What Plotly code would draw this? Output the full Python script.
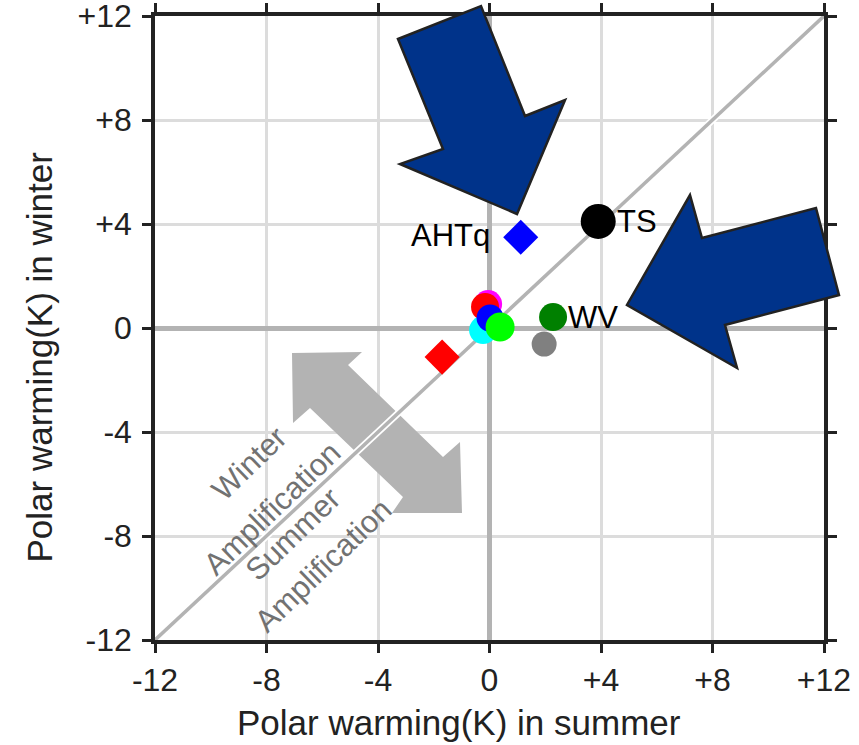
import plotly.graph_objects as go

# ---------------- data ----------------
summer_warming = [-0.05, -0.16, -0.23, 0.02, 0.38, 2.28, 1.96, -1.70, 1.12, 3.90]
winter_warming = [0.92, 0.81, -0.08, 0.38, 0.04, 0.42, -0.62, -1.12, 3.49, 4.10]
point_labels = ['', '', '', '', '', 'WV', '', '', 'AHTq', 'TS']
point_colors = ['#ff00ff', '#ff0000', '#00ffff', '#0000ff', '#00ff00',
                '#008000', '#808080', '#ff0000', '#0000ff', '#000000']
point_symbols = ['circle', 'circle', 'circle', 'circle', 'circle',
                 'circle', 'circle', 'diamond', 'diamond', 'circle']
label_sides = ['', '', '', '', '', 'right', '', '', 'left', 'right']

tick_values = [-12, -8, -4, 0, 4, 8, 12]
tick_labels = ['-12', '-8', '-4', '0', '+4', '+8', '+12']
axis_range = [-12, 12]

# ---------------- style ----------------
point_sizes = [28, 28, 28, 27, 29, 28, 25, 27, 27, 35]
FONT = 'Liberation Sans, Arial, sans-serif'
INK = '#222222'

# plot-area geometry (pixels) used for decorative arrows / texts
L, T, W, H = 155, 16, 669, 624
FIG_W, FIG_H = 859, 745
SPAN = axis_range[1] - axis_range[0]


def px_paper(px, py):
    return ((px - L) / W, (T + H - py) / H)


def px_data(px, py):
    return (axis_range[0] + (px - L) / W * SPAN, axis_range[1] - (py - T) / H * SPAN)


def make_path(pts):
    return 'M ' + ' L '.join(f'{x:.4f},{y:.4f}' for x, y in pts) + ' Z'


fig = go.Figure()

# 1:1 line (white halo + gray line)
fig.add_trace(go.Scatter(x=axis_range, y=axis_range, mode='lines',
                         line=dict(color='white', width=7), hoverinfo='skip'))
fig.add_trace(go.Scatter(x=axis_range, y=axis_range, mode='lines',
                         line=dict(color='#b3b3b3', width=3.5), hoverinfo='skip'))

# points
fig.add_trace(go.Scatter(
    x=summer_warming, y=winter_warming, mode='markers',
    marker=dict(color=point_colors, symbol=point_symbols, size=point_sizes,
                line=dict(width=0), opacity=1),
    hoverinfo='skip'))

annotations = []
# point labels
for i, lab in enumerate(point_labels):
    if not lab:
        continue
    half = point_sizes[i] * (0.65 if point_symbols[i] == 'diamond' else 0.5)
    if label_sides[i] == 'right':
        annotations.append(dict(x=summer_warming[i], y=winter_warming[i], text=lab,
                                showarrow=False, xanchor='left', yanchor='middle',
                                xshift=half - 1, font=dict(family=FONT, size=31, color='#000')))
    else:
        annotations.append(dict(x=summer_warming[i], y=winter_warming[i], text=lab,
                                showarrow=False, xanchor='right', yanchor='middle',
                                xshift=-(half + 11), yshift=2,
                                font=dict(family=FONT, size=31, color='#000')))

# rotated gray texts
for txt, (px, py) in [('Winter', (249, 463)), ('Amplification', (272, 508)),
                      ('Summer', (292.5, 534)), ('Amplification', (323, 565))]:
    xp, yp = px_paper(px, py)
    annotations.append(dict(x=xp, y=yp, xref='paper', yref='paper', text=txt,
                            showarrow=False, textangle=-44, xanchor='center', yanchor='middle',
                            font=dict(family=FONT, size=31, color='#727272')))

# axis titles
xp, yp = px_paper(459, 722)
annotations.append(dict(x=xp, y=yp, xref='paper', yref='paper',
                        text='Polar warming(K) in summer', showarrow=False,
                        xanchor='center', yanchor='middle',
                        font=dict(family=FONT, size=35, color=INK)))
xp, yp = px_paper(39, 357.5)
annotations.append(dict(x=xp, y=yp, xref='paper', yref='paper',
                        text='Polar warming(K) in winter', showarrow=False, textangle=-90,
                        xanchor='center', yanchor='middle',
                        font=dict(family=FONT, size=35, color=INK)))

shapes = []
# gray double arrow (between grid and data)
gray_px = [(292, 353), (362, 352), (348, 365), (443, 457), (460, 442),
           (462, 513), (392, 513), (403, 497), (310, 408), (293, 423)]
shapes.append(dict(type='path', xref='x', yref='y', layer='between',
                   path=make_path([px_data(*p) for p in gray_px]),
                   fillcolor='#b3b3b3', line=dict(width=0)))

# dark blue arrows
arrow1 = [(398, 39), (481, 6), (525, 116), (565, 100), (517, 214), (400, 164), (443, 149)]
arrow2 = [(690, 195), (702, 238), (816, 208), (839, 295), (725, 325), (737, 368), (627, 305)]
for arr in (arrow1, arrow2):
    shapes.append(dict(type='path', xref='paper', yref='paper', layer='above',
                       path=make_path([px_paper(*p) for p in arr]),
                       fillcolor='#00338a', line=dict(color=INK, width=2.5)))

axis_common = dict(
    range=axis_range, tickmode='array', tickvals=tick_values, ticktext=tick_labels,
    showgrid=True, gridcolor='#dcdcdc', gridwidth=2.5,
    zeroline=True, zerolinecolor='#b3b3b3', zerolinewidth=5,
    showline=True, linecolor=INK, linewidth=3.5, mirror='ticks',
    ticks='outside', ticklen=9, tickwidth=3, tickcolor=INK,
    tickfont=dict(family=FONT, size=32, color=INK),
    ticklabeloverflow='allow',
    automargin=False, fixedrange=True,
)

fig.update_layout(
    width=FIG_W, height=FIG_H,
    margin=dict(l=L, r=FIG_W - L - W, t=T, b=FIG_H - T - H, pad=0, autoexpand=False),
    paper_bgcolor='white', plot_bgcolor='white',
    showlegend=False,
    xaxis=axis_common,
    yaxis=dict(axis_common, ticklabelstandoff=4),
    annotations=annotations,
    shapes=shapes,
)

fig.write_html('out.html', config={'displayModeBar': False},
               post_script="document.body.style.margin='0';document.body.style.padding='0';")
